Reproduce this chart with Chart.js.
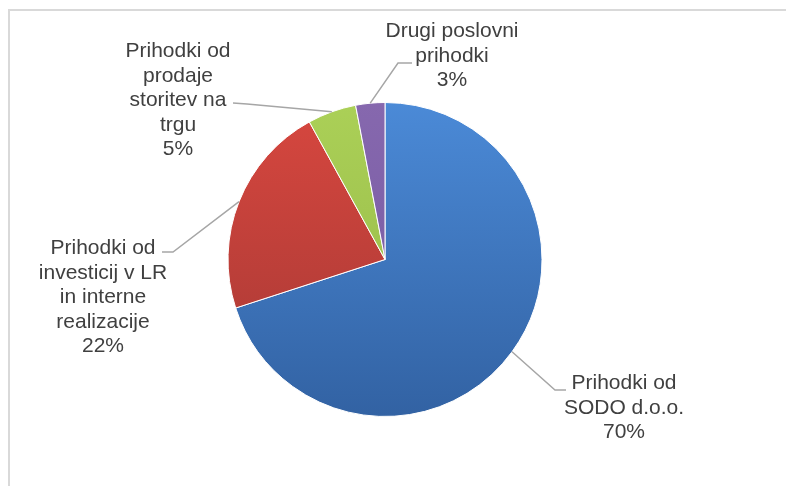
<!DOCTYPE html>
<html>
<head>
<meta charset="utf-8">
<script src="https://cdn.jsdelivr.net/npm/chart.js@4"></script>
<style>
  html, body { margin:0; padding:0; background:#fff; }
  #wrap { width:786px; height:486px; position:relative; }
</style>
</head>
<body>
<div id="wrap"><canvas id="pieChart"></canvas></div>
<script>
// ─── data ───
const CATEGORIES = [
  'Prihodki od SODO d.o.o.',
  'Prihodki od investicij v LR in interne realizacije',
  'Prihodki od prodaje storitev na trgu',
  'Drugi poslovni prihodki'
];
const LABEL_LINES = [
  ['Prihodki od', 'SODO d.o.o.'],
  ['Prihodki od', 'investicij v LR', 'in interne', 'realizacije'],
  ['Prihodki od', 'prodaje', 'storitev na', 'trgu'],
  ['Drugi poslovni', 'prihodki']
];
const SHARES = [70, 22, 5, 3];

// ─── style ───
const GRADS = [
  ['#4b8ad7', '#3262a3'],
  ['#d7473f', '#a53834'],
  ['#abd057', '#94b646'],
  ['#8668ae', '#7457a0']
];
// label block: centre x, first baseline, elbow + end of leader line
const LABEL_POS = [
  { x:624, y:389, elbow:[555,390], end:[566,390] },
  { x:103, y:254, elbow:[173,252], end:[162,252] },
  { x:178, y:57,  elbow:[247,104], end:[233,103] },
  { x:452, y:37,  elbow:[398,63],  end:[412,63] }
];
const LINE_H = 24.5;

const framePlugin = {
  id:'frame',
  beforeDraw(chart) {
    const c = chart.ctx;
    c.save();
    c.strokeStyle = '#d9d9d9';
    c.lineWidth = 2;
    c.beginPath();
    c.moveTo(9, 486); c.lineTo(9, 10); c.lineTo(786, 10);
    c.stroke();
    c.restore();
  }
};

const labelPlugin = {
  id:'pieLabels',
  afterDatasetsDraw(chart) {
    const c = chart.ctx;
    const meta = chart.getDatasetMeta(0);
    const total = SHARES.reduce((s,v)=>s+v,0);
    c.save();
    meta.data.forEach((arc, i) => {
      const p = LABEL_POS[i];
      const mid = (arc.startAngle + arc.endAngle) / 2;
      const ax = arc.x + Math.cos(mid) * arc.outerRadius;
      const ay = arc.y + Math.sin(mid) * arc.outerRadius;
      c.strokeStyle = '#a6a6a6';
      c.lineWidth = 1.5;
      c.beginPath();
      c.moveTo(ax, ay); c.lineTo(p.elbow[0], p.elbow[1]); c.lineTo(p.end[0], p.end[1]);
      c.stroke();

      const lines = [...LABEL_LINES[i], Math.round(SHARES[i]/total*100) + '%'];
      c.fillStyle = '#404040';
      c.font = '21px "Liberation Sans", Arial, sans-serif';
      c.textAlign = 'center';
      c.textBaseline = 'alphabetic';
      lines.forEach((t, k) => c.fillText(t, p.x, p.y + k*LINE_H));
    });
    c.restore();
  }
};

new Chart(document.getElementById('pieChart'), {
  type: 'pie',
  data: {
    labels: CATEGORIES,
    datasets: [{
      data: SHARES,
      backgroundColor: ctx => {
        const ca = ctx.chart.chartArea;
        const g = GRADS[ctx.dataIndex];
        if (!ca) return g[0];
        const grad = ctx.chart.ctx.createLinearGradient(0, ca.top, 0, ca.bottom);
        grad.addColorStop(0, g[0]);
        grad.addColorStop(1, g[1]);
        return grad;
      },
      borderColor: '#ffffff',
      borderWidth: 1
    }]
  },
  options: {
    responsive: true,
    maintainAspectRatio: false,
    animation: false,
    layout: { padding: { left:227.5, right:243.5, top:102, bottom:69 } },
    plugins: { legend:{ display:false }, tooltip:{ enabled:false } }
  },
  plugins: [framePlugin, labelPlugin]
});
</script>
</body>
</html>
